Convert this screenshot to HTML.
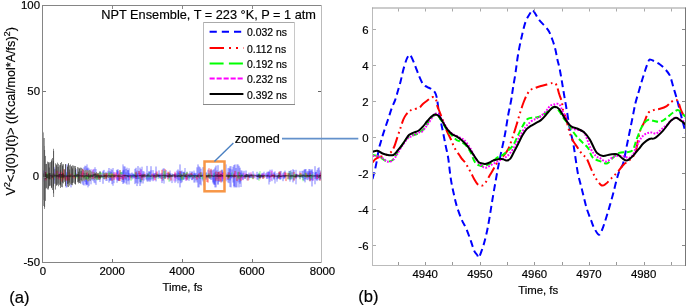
<!DOCTYPE html><html><head><meta charset="utf-8"><style>
html,body{margin:0;padding:0;background:#fff;}
body{width:687px;height:306px;overflow:hidden;position:relative;font-family:"Liberation Sans",sans-serif;}
svg{position:absolute;left:0;top:0;will-change:transform;}
text{font-family:"Liberation Sans",sans-serif;fill:#000;stroke:#000;stroke-width:0.18px;}
</style></head><body>
<svg width="687" height="306" viewBox="0 0 687 306">
<defs><clipPath id="cl"><rect x="42.5" y="5.5" width="279" height="257"/></clipPath><clipPath id="cr"><rect x="372.5" y="8.5" width="313" height="257"/></clipPath></defs>
<g clip-path="url(#cl)" fill="none" stroke-linejoin="round">
<path d="M44.0 170.9V178.0M45.0 168.4V178.1M46.0 165.9V179.4M47.0 170.4V181.8M48.0 171.3V182.3M49.0 171.2V182.1M51.0 173.7V179.8M52.0 171.8V179.4M53.0 172.5V178.7M54.0 166.8V183.7M55.0 169.4V180.4M56.0 172.5V176.0M57.0 174.0V176.8M58.0 174.3V177.7M59.0 173.6V176.0M60.0 174.5V177.5M66.0 171.8V187.4M67.0 164.4V187.4M68.0 165.9V180.5M69.0 169.8V181.5M70.0 172.2V182.7M71.0 169.8V187.4M73.0 174.4V178.6M74.0 174.9V178.4M75.0 174.6V177.3M76.0 174.8V177.1M77.0 173.0V177.0M79.0 174.5V178.4M80.0 171.7V177.7M82.0 168.4V179.0M84.0 167.3V185.5M85.0 165.7V181.9M86.0 174.4V185.5M87.0 168.4V184.6M89.0 168.5V185.8M90.0 173.7V181.2M91.0 171.9V180.2M92.0 171.7V178.9M93.0 169.9V179.4M94.0 173.3V178.9M95.0 174.1V178.1M97.0 174.1V178.2M98.0 173.0V178.6M99.0 174.1V179.7M100.0 173.2V179.2M101.0 173.5V176.6M103.0 170.7V183.8M104.0 169.9V179.1M109.0 168.0V182.6M110.0 172.8V180.9M111.0 172.0V179.9M112.0 169.8V184.2M114.0 172.3V177.3M115.0 175.1V176.4M117.0 170.2V179.5M118.0 169.2V181.1M119.0 174.1V180.6M120.0 172.7V179.0M122.0 171.9V182.0M123.0 170.4V184.0M124.0 166.3V182.4M125.0 166.5V179.4M126.0 168.9V183.5M128.0 170.2V177.2M129.0 168.3V180.4M130.0 173.9V176.4M131.0 173.1V178.1M132.0 174.9V176.9M133.0 173.3V176.7M134.0 174.5V177.3M135.0 168.9V184.1M136.0 167.8V182.9M137.0 170.6V186.1M138.0 166.1V183.6M140.0 167.6V186.0M141.0 169.2V182.2M143.0 173.5V183.5M144.0 171.4V180.5M147.0 165.9V181.4M148.0 173.4V181.7M149.0 171.5V179.6M150.0 171.7V181.9M151.0 166.2V179.4M153.0 170.1V181.2M154.0 173.7V178.4M155.0 173.1V177.6M156.0 166.5V181.4M158.0 175.0V176.1M159.0 170.4V178.6M160.0 175.1V177.8M161.0 173.6V179.0M162.0 172.8V183.1M163.0 168.7V180.6M164.0 174.0V177.7M165.0 173.6V178.2M166.0 170.0V178.2M167.0 173.1V177.0M168.0 172.8V178.6M169.0 173.1V178.1M170.0 172.9V178.4M172.0 174.3V176.3M175.0 173.6V178.2M177.0 170.6V176.8M178.0 169.4V183.3M179.0 170.7V179.8M180.0 164.4V187.4M181.0 170.9V183.2M182.0 170.5V182.3M183.0 172.0V180.0M184.0 172.1V179.2M185.0 173.3V177.4M187.0 173.6V179.8M188.0 174.3V178.3M189.0 173.1V180.8M190.0 174.0V178.1M191.0 173.8V177.1M192.0 171.8V180.2M194.0 172.8V178.4M195.0 174.0V177.4M197.0 167.3V182.5M198.0 164.4V187.4M199.0 166.4V187.4M200.0 167.2V184.4M201.0 168.7V185.4M203.0 167.2V181.4M204.0 167.0V185.5M206.0 172.8V177.8M208.0 169.7V177.4M209.0 173.3V178.3M210.0 170.5V178.6M211.0 169.7V180.0M213.0 169.8V183.4M214.0 169.3V183.8M215.0 167.5V187.4M216.0 165.6V187.4M218.0 165.2V183.9M220.0 170.8V181.8M222.0 169.7V182.2M223.0 171.5V178.7M224.0 172.0V179.1M228.0 172.3V180.1M230.0 168.8V180.4M231.0 173.3V178.3M232.0 169.4V178.3M233.0 166.7V182.6M234.0 165.0V186.1M235.0 164.4V187.3M236.0 168.0V187.4M238.0 172.5V178.0M239.0 165.8V187.4M240.0 167.7V183.8M241.0 172.6V178.1M242.0 170.6V178.3M243.0 172.7V179.5M244.0 170.8V177.5M245.0 175.0V179.0M246.0 170.5V177.0M247.0 174.5V177.2M248.0 175.0V176.3M249.0 172.6V177.6M250.0 175.2V178.0M251.0 174.8V177.4M252.0 174.9V178.0M253.0 171.3V178.4M254.0 173.8V178.0M257.0 171.8V179.5M258.0 174.5V179.8M259.0 173.4V177.7M261.0 175.1V177.3M262.0 174.9V178.0M263.0 174.3V178.6M265.0 174.4V176.7M266.0 173.1V176.7M267.0 174.7V178.7M268.0 173.8V177.4M269.0 171.7V178.6M270.0 174.9V178.0M271.0 173.7V176.0M272.0 173.4V176.4M274.0 172.9V179.2M275.0 173.8V177.3M277.0 175.0V179.4M278.0 174.9V178.8M279.0 172.6V178.1M280.0 173.1V179.3M281.0 170.9V179.3M283.0 172.8V181.2M284.0 171.8V179.1M285.0 170.6V178.1M289.0 170.9V179.4M290.0 172.8V181.6M291.0 170.2V179.4M293.0 169.2V182.4M295.0 175.0V177.1M296.0 173.7V178.6M297.0 173.9V177.4M298.0 175.1V177.3M299.0 174.8V177.4M300.0 174.3V177.1M303.0 170.8V180.0M304.0 174.1V176.5M305.0 169.4V182.4M307.0 171.4V179.7M308.0 172.8V180.2M309.0 169.0V178.9M310.0 170.7V181.4M311.0 170.4V179.9M312.0 169.1V186.5M313.0 171.9V180.6M315.0 166.2V184.3M316.0 172.0V177.6M317.0 174.4V180.2M318.0 168.1V177.5M319.0 167.3V180.2M320.0 173.1V178.7M321.0 172.5V179.3" stroke="#0000ff" stroke-width="0.6" stroke-opacity="0.85"/>
<path d="M43.0 170.7V181.7M44.0 170.0V177.7M45.0 171.1V178.2M47.0 171.0V183.5M48.0 169.0V179.3M50.0 173.8V179.8M51.0 174.9V178.1M54.0 174.3V176.5M55.0 174.6V176.8M56.0 174.8V177.4M57.0 175.2V177.4M58.0 174.6V177.3M59.0 174.1V177.8M60.0 174.7V176.8M61.0 174.4V177.6M62.0 174.6V177.9M63.0 174.5V177.5M65.0 174.7V177.4M66.0 174.4V178.0M67.0 172.8V178.4M69.0 172.3V176.7M70.0 169.7V180.6M71.0 172.5V179.8M72.0 172.3V181.5M73.0 169.7V177.2M74.0 172.2V179.0M77.0 169.1V176.0M78.0 171.6V180.0M79.0 171.3V183.0M81.0 169.0V180.3M82.0 172.5V183.6M83.0 172.5V184.9M86.0 166.2V184.0M87.0 164.4V185.0M88.0 167.5V187.4M91.0 169.2V184.3M93.0 173.3V180.9M94.0 168.9V182.6M95.0 167.2V183.3M96.0 169.0V184.9M97.0 173.6V179.7M98.0 173.7V179.4M100.0 171.6V182.0M103.0 172.2V177.8M104.0 173.0V179.0M106.0 171.8V181.0M107.0 172.6V180.9M108.0 170.7V177.3M110.0 171.0V180.3M111.0 168.8V180.8M112.0 174.2V178.1M113.0 168.0V185.8M114.0 175.2V183.2M117.0 169.7V182.8M118.0 171.3V180.3M119.0 175.2V180.7M121.0 172.1V179.3M123.0 164.4V179.9M124.0 169.7V183.3M126.0 172.3V180.3M127.0 167.7V184.6M128.0 170.1V181.2M129.0 173.0V184.5M131.0 174.8V177.7M132.0 172.4V179.5M133.0 174.0V178.5M134.0 174.0V178.4M135.0 174.2V178.2M136.0 172.7V178.8M137.0 174.2V178.9M138.0 173.1V179.1M139.0 171.2V179.0M140.0 173.5V181.9M141.0 173.7V183.5M142.0 166.7V180.1M143.0 171.1V177.3M146.0 174.7V179.5M147.0 173.3V179.7M149.0 171.3V180.9M151.0 170.3V180.6M153.0 173.9V179.6M154.0 173.4V178.2M156.0 173.2V178.1M158.0 173.8V177.0M159.0 174.3V177.1M160.0 173.8V177.6M161.0 174.8V176.3M162.0 174.8V176.6M163.0 174.7V178.0M164.0 168.2V183.6M165.0 174.1V178.7M170.0 170.5V181.4M172.0 173.3V183.1M175.0 174.0V182.8M176.0 173.4V181.5M177.0 174.1V178.8M178.0 172.4V180.5M179.0 172.7V176.3M180.0 173.3V181.2M181.0 171.9V180.1M184.0 171.5V179.7M185.0 168.0V177.2M186.0 174.6V180.8M187.0 171.8V178.6M188.0 174.4V177.7M189.0 175.1V176.9M190.0 171.2V178.8M191.0 173.5V176.0M192.0 171.4V180.0M193.0 174.0V179.2M194.0 170.6V182.6M195.0 172.8V182.5M196.0 172.9V180.5M198.0 174.3V176.9M200.0 172.2V178.9M202.0 174.3V176.1M203.0 172.5V179.8M205.0 173.8V179.9M206.0 171.9V179.8M207.0 175.4V177.9M209.0 174.3V178.2M210.0 175.2V178.8M212.0 170.5V179.5M213.0 174.9V181.9M214.0 173.4V185.0M215.0 172.2V184.8M216.0 173.8V181.6M217.0 170.3V179.2M218.0 172.4V185.0M219.0 171.7V181.9M222.0 169.8V181.2M223.0 172.4V180.9M224.0 172.7V182.8M225.0 174.7V179.5M226.0 164.4V181.3M228.0 168.2V182.6M229.0 167.8V183.2M230.0 166.2V187.1M231.0 166.2V187.4M234.0 173.4V187.4M237.0 164.4V187.4M238.0 164.4V182.4M240.0 172.8V182.3M241.0 170.3V187.0M243.0 174.2V180.2M245.0 175.2V177.6M246.0 174.0V177.6M247.0 174.5V180.4M249.0 175.0V179.6M250.0 174.8V177.6M251.0 173.8V176.8M254.0 175.1V176.0M256.0 174.8V176.3M257.0 174.5V176.9M258.0 174.6V177.5M259.0 173.9V178.3M260.0 175.2V178.3M261.0 174.5V177.2M262.0 172.9V176.8M263.0 172.9V177.2M264.0 171.7V177.2M267.0 171.8V178.9M268.0 171.7V176.5M269.0 171.5V184.5M270.0 169.7V181.9M272.0 169.5V181.2M274.0 171.9V179.6M275.0 171.4V183.5M277.0 173.1V181.7M279.0 172.7V177.4M280.0 171.4V179.7M282.0 175.4V177.3M283.0 174.6V176.4M284.0 175.4V178.2M285.0 175.0V177.3M286.0 174.8V176.5M289.0 173.3V178.2M290.0 171.0V179.5M292.0 172.1V179.1M294.0 170.0V180.4M296.0 169.8V184.3M300.0 170.9V179.2M302.0 170.8V177.9M303.0 175.2V178.0M304.0 169.7V180.9M305.0 169.3V179.2M306.0 169.0V179.4M308.0 170.8V176.3M309.0 171.4V177.7M310.0 169.0V180.3M312.0 170.4V180.5M313.0 175.0V176.5M315.0 172.6V178.9M316.0 171.7V179.5M317.0 169.9V181.1M318.0 174.3V179.0M320.0 170.3V180.4M321.0 175.0V179.0" stroke="#0000ff" stroke-width="0.5" stroke-opacity="0.9"/>
<path d="M43.0 131.9V205.9M44.5 145.9V208.9M45.5 155.9V200.9M46.5 163.9V187.9M47.5 161.6V189.4M48.5 163.4V189.5M49.5 162.4V186.2M50.5 162.1V185.7M51.5 159.4V188.2M52.5 158.0V190.0M53.5 148.8V193.3M55.5 163.3V189.6M56.5 164.4V184.9M57.5 162.6V184.9M58.5 163.9V186.3M59.5 165.2V184.8M60.5 164.9V184.2M61.5 162.0V186.9M62.5 164.3V187.3M63.5 164.2V183.4M65.5 164.4V184.5M67.5 165.5V186.5M68.5 164.1V183.6M69.5 165.3V185.6M70.5 164.5V184.4M71.5 166.9V183.5M72.5 165.3V185.2M73.5 165.6V182.7M74.5 165.9V183.7M75.5 166.0V184.7M77.5 167.1V182.2M78.5 167.5V183.4M79.5 167.9V181.2M80.5 167.6V183.6M81.5 167.8V181.4M82.5 168.9V181.3M83.5 170.2V180.5M84.5 170.7V180.7M85.5 169.8V179.7M86.5 170.2V179.8M87.5 170.1V181.3M88.5 170.5V181.2M89.5 170.0V180.3M90.5 170.4V180.6M91.5 171.6V178.9M92.5 171.6V179.4M93.5 172.1V178.9M94.5 172.2V179.8M95.5 172.9V179.2M96.5 172.0V179.4M97.5 172.9V179.5M98.5 172.9V179.7M99.5 171.5V180.0M100.5 171.5V179.3M103.5 173.2V178.5M104.5 172.9V179.3M105.5 172.8V178.5M106.5 173.2V178.8M108.5 173.4V178.0M109.5 173.0V177.7M110.5 173.3V177.9M111.5 173.8V177.9M112.5 173.7V177.4M113.5 174.0V177.6M114.5 174.3V177.2M115.5 174.5V177.2M116.5 174.5V177.1M117.5 174.6V177.2M118.5 174.7V177.2M119.5 174.9V177.0M120.5 174.9V176.8" stroke="#8a8a8a" stroke-width="1" stroke-opacity="1"/>
<path d="M43.0 174.2V175.5M46.0 172.3V180.3M49.0 173.6V179.2M53.0 175.5V179.2M54.0 173.7V177.3M57.0 170.6V178.3M59.0 174.4V179.4M60.0 173.8V177.5M61.0 171.7V178.2M62.0 173.5V181.6M63.0 172.9V178.6M64.0 169.3V179.6M66.0 175.6V181.0M67.0 176.7V179.8M68.0 175.0V180.7M69.0 172.1V180.3M70.0 173.8V177.7M72.0 173.2V176.5M74.0 175.5V178.3M76.0 177.6V178.2M77.0 174.0V175.6M79.0 176.6V178.5M82.0 172.6V177.0M83.0 169.2V177.6M87.0 172.3V175.7M90.0 173.7V177.5M93.0 176.5V178.4M97.0 173.9V175.8M98.0 174.0V175.0M99.0 175.2V179.0M100.0 175.4V176.7M101.0 175.2V176.5M105.0 174.8V176.4M106.0 174.2V179.2M107.0 173.1V176.9M112.0 173.7V180.8M114.0 173.6V179.7M116.0 172.6V177.7M119.0 173.5V180.9M120.0 170.0V181.1M122.0 174.8V178.5M123.0 177.0V179.9M124.0 174.7V177.8M125.0 174.7V176.2M126.0 177.2V178.5M130.0 176.0V178.4M136.0 171.8V178.7M139.0 170.9V174.4M140.0 172.8V177.8M142.0 174.5V180.3M144.0 174.0V177.7M152.0 173.8V175.6M154.0 175.2V177.7M155.0 175.5V180.1M156.0 173.6V177.2M157.0 171.6V175.1M162.0 169.8V179.0M165.0 169.1V179.0M168.0 171.6V179.6M169.0 172.2V177.4M171.0 175.3V180.5M175.0 172.6V177.4M180.0 171.2V176.1M182.0 175.1V178.8M184.0 173.0V175.5M185.0 175.8V176.8M186.0 175.2V179.0M187.0 172.6V179.6M189.0 174.1V175.6M191.0 172.9V175.2M192.0 173.7V174.8M193.0 176.4V178.4M196.0 177.0V177.9M197.0 176.4V179.7M199.0 173.3V178.3M201.0 172.2V176.7M204.0 173.6V177.7M205.0 173.2V178.9M206.0 175.5V178.1M207.0 175.1V182.0M208.0 174.8V182.6M209.0 168.2V177.5M211.0 168.8V177.8M216.0 171.5V180.7M218.0 172.0V181.0M219.0 171.7V178.6M220.0 173.7V180.9M221.0 170.5V182.5M223.0 173.0V177.6M224.0 173.2V176.3M228.0 175.8V179.3M229.0 172.3V178.2M234.0 173.8V178.2M235.0 170.9V176.4M236.0 175.5V177.2M237.0 175.5V181.0M239.0 171.8V179.5M241.0 175.8V180.8M245.0 174.3V178.7M248.0 175.2V180.7M252.0 174.5V175.6M253.0 175.0V179.2M258.0 176.1V176.8M260.0 174.9V179.2M263.0 174.5V178.9M264.0 175.1V178.2M270.0 175.6V176.5M271.0 176.2V177.2M272.0 175.2V176.9M273.0 174.3V176.1M274.0 174.4V178.0M279.0 171.7V178.9M280.0 171.5V177.1M285.0 172.3V176.7M286.0 172.7V181.1M288.0 173.3V179.1M289.0 173.2V176.1M294.0 171.9V180.6M296.0 174.5V178.3M300.0 172.7V177.2M301.0 173.3V175.9M306.0 172.9V176.6M307.0 174.3V177.8M310.0 172.7V181.1M317.0 174.3V178.9M320.0 174.3V180.7M321.0 171.5V177.5" stroke="#ff0000" stroke-width="0.8" stroke-opacity="0.8"/>
<path d="M43.0 175.3V177.5M44.0 174.6V175.7M45.0 175.8V177.9M47.0 172.9V177.6M49.0 174.2V179.6M54.0 174.6V178.0M55.0 173.1V176.3M56.0 176.7V178.1M57.0 173.1V175.0M58.0 176.3V178.6M62.0 175.6V178.6M65.0 176.0V176.3M66.0 174.3V176.1M69.0 173.3V174.3M70.0 175.8V178.2M72.0 172.6V177.7M75.0 172.6V176.6M77.0 174.2V178.4M80.0 172.2V175.9M81.0 174.5V175.5M84.0 174.6V177.5M86.0 175.1V178.7M87.0 175.0V179.3M88.0 176.0V178.7M89.0 174.2V175.9M92.0 174.4V177.3M97.0 174.0V180.4M100.0 172.9V176.9M101.0 172.4V177.4M102.0 172.8V178.2M109.0 171.8V175.2M112.0 172.6V176.5M115.0 174.3V175.4M119.0 174.1V175.1M120.0 170.2V176.2M121.0 172.0V177.0M122.0 172.5V175.3M131.0 176.3V180.9M132.0 175.7V178.2M135.0 172.5V176.3M139.0 176.2V179.2M141.0 176.3V181.6M145.0 174.3V176.7M147.0 176.6V178.4M148.0 173.6V176.6M149.0 172.7V177.7M152.0 174.5V178.8M153.0 175.3V178.3M156.0 172.8V178.2M158.0 173.5V178.8M161.0 174.9V178.5M163.0 174.0V180.4M164.0 170.8V177.2M165.0 171.2V178.5M169.0 173.2V181.7M170.0 173.9V176.9M177.0 173.6V175.7M179.0 174.3V177.9M181.0 173.6V179.5M182.0 176.8V180.6M183.0 175.9V179.7M184.0 172.8V177.1M186.0 172.9V178.2M187.0 171.7V175.9M188.0 176.4V179.6M190.0 174.4V177.0M192.0 175.0V177.4M195.0 174.9V178.2M198.0 175.8V178.1M201.0 172.6V177.2M202.0 175.6V179.4M203.0 177.3V178.7M206.0 176.9V178.3M207.0 174.9V176.0M208.0 173.6V178.1M210.0 173.7V178.6M214.0 173.4V177.7M225.0 172.2V176.7M227.0 174.5V177.1M229.0 175.2V178.4M232.0 172.3V176.1M238.0 171.9V178.5M239.0 175.2V178.6M241.0 174.0V177.7M242.0 175.1V176.7M246.0 175.4V177.5M251.0 173.4V178.4M253.0 174.0V179.0M259.0 172.7V180.8M260.0 171.1V177.1M264.0 175.5V177.5M267.0 174.7V176.3M271.0 171.9V175.2M279.0 173.9V177.1M288.0 172.6V179.5M290.0 170.9V179.3M291.0 174.3V179.5M292.0 172.4V177.9M294.0 173.9V178.6M295.0 173.9V176.6M299.0 174.6V177.1M300.0 174.3V179.3M301.0 174.1V176.1M303.0 174.7V181.3M305.0 172.7V176.9M306.0 173.4V177.8M308.0 175.2V177.5M310.0 174.8V176.6M311.0 175.8V178.2M312.0 174.2V179.2M313.0 174.3V178.1" stroke="#00ff00" stroke-width="0.8" stroke-opacity="0.6"/>
<path d="M45.0 170.9V180.6M51.0 175.2V176.9M55.0 172.2V175.6M57.0 175.6V178.3M59.0 171.8V178.8M61.0 173.0V177.0M65.0 174.8V176.5M67.0 176.4V177.1M69.0 175.6V178.8M72.0 172.9V178.4M74.0 174.9V175.3M80.0 173.1V176.8M81.0 173.9V177.2M83.0 170.8V175.2M84.0 174.0V176.0M87.0 173.5V176.7M93.0 169.2V178.6M96.0 173.7V175.4M101.0 173.7V177.0M103.0 174.4V176.0M114.0 171.9V174.8M115.0 175.0V179.4M116.0 172.3V176.9M117.0 174.0V179.8M119.0 170.9V176.0M120.0 173.9V175.5M121.0 174.4V178.5M122.0 174.6V176.8M123.0 174.7V176.0M124.0 174.7V178.3M130.0 174.8V179.9M133.0 176.4V178.1M139.0 174.0V176.3M140.0 173.2V178.3M141.0 169.7V179.5M145.0 172.5V177.8M148.0 173.8V175.4M152.0 174.6V177.2M153.0 173.4V177.9M154.0 174.4V180.6M156.0 171.4V174.8M157.0 173.6V177.8M160.0 172.9V176.7M162.0 174.2V180.9M164.0 174.5V175.8M167.0 174.2V176.2M168.0 173.6V178.3M170.0 174.1V176.5M174.0 174.2V181.3M175.0 171.6V176.1M176.0 173.8V179.3M178.0 174.7V175.3M179.0 176.3V178.3M186.0 175.2V180.4M187.0 173.9V180.5M197.0 176.1V178.8M199.0 174.7V176.1M203.0 174.7V176.9M206.0 175.9V178.3M212.0 173.3V176.7M215.0 175.0V177.6M218.0 175.0V176.9M219.0 173.9V176.9M221.0 172.7V177.7M222.0 173.7V179.9M223.0 173.3V177.5M224.0 171.3V178.3M226.0 173.0V179.8M236.0 171.8V176.2M239.0 174.8V176.2M240.0 173.5V176.1M242.0 176.9V180.1M243.0 176.1V177.8M244.0 172.8V174.8M246.0 172.9V174.3M250.0 173.6V176.9M251.0 172.0V176.6M252.0 174.0V177.8M255.0 173.6V178.5M259.0 176.2V177.7M262.0 173.8V176.4M264.0 173.2V176.1M266.0 175.7V177.6M268.0 172.7V177.7M271.0 170.5V180.5M272.0 171.0V176.3M274.0 175.7V176.7M277.0 174.8V176.1M281.0 174.3V177.2M282.0 175.2V177.9M284.0 174.0V174.6M285.0 173.2V174.3M290.0 175.7V178.6M292.0 173.3V176.0M298.0 174.0V175.3M300.0 177.1V177.7M304.0 174.7V176.0M308.0 177.3V178.0M313.0 175.1V180.6M317.0 173.5V179.0M320.0 176.4V177.6M321.0 175.6V177.1" stroke="#ff00ff" stroke-width="0.8" stroke-opacity="0.65"/>
<path d="M43.0 173.0V178.4M44.0 174.2V178.0M45.0 172.0V178.7M46.0 173.8V178.4M47.0 174.3V178.2M48.0 174.3V178.3M49.0 173.1V178.7M50.0 173.1V179.4M51.0 174.8V176.5M52.0 175.2V177.9M53.0 173.5V177.2M54.0 175.3V176.5M55.0 174.7V175.9M56.0 174.8V177.2M57.0 175.0V176.6M58.0 174.8V176.9M59.0 174.2V177.6M60.0 173.7V176.8M61.0 174.1V177.8M62.0 174.0V177.2M63.0 173.5V177.6M64.0 174.8V177.6M65.0 175.3V176.6M66.0 175.6V176.7M67.0 175.5V176.8M68.0 175.2V176.9M69.0 175.2V176.9M70.0 175.5V177.0M71.0 174.7V176.4M72.0 175.9V176.8M73.0 175.6V176.7M74.0 174.8V176.5M75.0 175.0V177.0M76.0 174.9V176.5M77.0 174.5V177.1M78.0 174.2V176.7M79.0 174.7V176.7M80.0 174.9V176.4M81.0 175.5V176.5M82.0 175.2V176.6M83.0 175.4V176.4M84.0 175.5V176.7M85.0 175.4V177.0M86.0 175.1V176.2M87.0 175.3V176.8M88.0 174.5V177.0M89.0 175.5V176.9M90.0 175.1V177.6M91.0 174.8V176.8M92.0 174.9V177.0M93.0 174.5V176.9M94.0 173.9V176.1M95.0 173.6V177.9M96.0 173.7V177.1M97.0 175.2V177.6M98.0 174.6V177.4M99.0 175.0V177.4M100.0 175.4V178.1M101.0 175.1V177.3M102.0 175.4V177.3M103.0 175.6V176.8M104.0 174.7V177.2M105.0 175.0V177.0M106.0 175.3V176.3M107.0 175.3V177.5M108.0 175.2V176.5M109.0 175.3V176.3M110.0 175.2V177.3M111.0 175.2V177.2M112.0 175.4V176.3M113.0 175.4V176.2M114.0 175.2V177.2M115.0 175.4V176.4M116.0 175.5V176.0M117.0 175.5V176.3M118.0 175.1V177.1M119.0 175.5V176.5M120.0 175.5V176.4M121.0 175.9V176.7M122.0 175.9V176.6M123.0 175.4V176.3M124.0 175.3V176.1M125.0 174.9V176.6M126.0 175.2V176.2M127.0 175.0V176.7M128.0 175.1V177.3M129.0 175.6V176.7M130.0 175.2V176.4M131.0 175.5V176.4M132.0 175.5V176.3M133.0 175.5V176.5M134.0 175.4V176.1M135.0 175.1V176.6M136.0 175.4V176.9M137.0 175.4V176.6M138.0 175.5V176.3M139.0 175.4V176.3M140.0 174.9V176.0M141.0 175.2V176.5M142.0 174.5V177.5M143.0 174.9V176.7M144.0 174.6V176.6M145.0 174.5V176.7M146.0 175.5V176.6M147.0 175.0V176.6M148.0 174.4V176.7M149.0 175.4V176.4M150.0 175.3V176.7M151.0 175.5V176.9M152.0 175.3V176.3M153.0 175.6V176.4M154.0 174.8V176.8M155.0 175.3V176.2M156.0 175.5V176.7M157.0 174.4V176.7M158.0 174.8V176.8M159.0 174.9V176.6M160.0 175.1V176.3M161.0 175.6V176.3M162.0 175.4V176.2M163.0 175.2V176.1M164.0 175.2V176.0M165.0 175.1V176.7M166.0 175.1V176.1M167.0 175.2V176.9M168.0 175.1V177.0M169.0 174.5V177.2M170.0 174.3V176.8M171.0 175.0V176.8M172.0 175.0V177.1M173.0 174.3V176.7M174.0 174.5V176.4M175.0 174.7V177.3M176.0 175.6V176.4M177.0 175.3V177.2M178.0 175.3V176.9M179.0 175.0V176.6M180.0 175.6V177.0M181.0 174.6V177.2M182.0 174.8V176.3M183.0 174.7V176.5M184.0 175.5V176.3M185.0 175.0V176.8M186.0 174.3V177.1M187.0 175.7V176.6M188.0 175.3V176.3M189.0 175.2V176.4M190.0 175.5V176.8M191.0 175.2V176.6M192.0 175.3V176.6M193.0 174.9V176.2M194.0 175.1V176.8M195.0 175.4V176.4M196.0 174.9V176.5M197.0 175.0V177.0M198.0 174.7V176.9M199.0 175.5V176.3M200.0 175.4V176.3M201.0 175.0V177.0M202.0 175.2V176.4M203.0 175.5V176.4M204.0 175.5V176.2M205.0 175.5V176.3M206.0 175.2V176.7M207.0 175.5V177.0M208.0 175.0V176.8M209.0 175.0V176.5M210.0 175.4V176.5M211.0 175.3V176.3M212.0 174.9V176.6M213.0 175.6V176.7M214.0 175.6V176.7M215.0 175.0V176.6M216.0 175.3V176.5M217.0 174.4V176.9M218.0 174.8V177.0M219.0 174.9V176.8M220.0 174.8V176.9M221.0 173.9V177.2M222.0 174.7V176.4M223.0 175.1V176.7M224.0 175.1V176.5M225.0 175.6V176.5M226.0 175.4V176.8M227.0 174.6V176.6M228.0 174.8V177.3M229.0 174.9V176.9M230.0 174.9V176.8M231.0 175.2V176.6M232.0 174.9V176.7M233.0 175.4V177.0M234.0 175.1V176.4M235.0 175.3V177.0M236.0 175.4V176.0M237.0 175.5V176.3M238.0 175.5V176.5M239.0 175.2V176.5M240.0 175.3V176.4M241.0 175.4V176.6M242.0 174.8V176.4M243.0 175.5V176.4M244.0 175.6V176.7M245.0 175.1V176.9M246.0 174.6V177.0M247.0 174.0V176.9M248.0 174.6V177.1M249.0 174.4V177.3M250.0 175.1V176.6M251.0 174.5V176.0M252.0 174.8V176.5M253.0 175.5V176.2M254.0 175.4V176.5M255.0 175.3V176.2M256.0 174.9V176.5M257.0 175.7V176.9M258.0 174.8V177.0M259.0 174.6V177.1M260.0 174.8V177.9M261.0 174.8V176.8M262.0 174.9V176.6M263.0 175.5V177.0M264.0 175.1V176.3M265.0 175.5V176.1M266.0 175.7V176.3M267.0 175.3V176.5M268.0 175.1V176.6M269.0 175.8V176.3M270.0 175.7V176.6M271.0 175.7V176.4M272.0 174.9V176.5M273.0 175.3V176.3M274.0 175.2V176.7M275.0 175.4V176.7M276.0 175.5V176.5M277.0 175.8V176.9M278.0 175.1V177.6M279.0 175.0V176.4M280.0 175.7V177.1M281.0 175.4V177.0M282.0 175.5V176.8M283.0 175.3V176.3M284.0 175.3V176.8M285.0 175.2V176.5M286.0 175.2V176.4M287.0 175.1V176.4M288.0 175.2V176.4M289.0 175.7V176.5M290.0 175.5V176.5M291.0 175.0V177.2M292.0 175.2V176.5M293.0 175.1V176.9M294.0 175.7V176.7M295.0 175.6V177.4M296.0 174.5V177.1M297.0 174.7V176.8M298.0 175.1V176.4M299.0 175.1V176.6M300.0 175.7V176.8M301.0 175.1V177.1M302.0 174.7V177.1M303.0 174.6V176.4M304.0 175.3V176.4M305.0 175.2V176.7M306.0 175.5V176.6M307.0 175.0V176.6M308.0 174.9V176.7M309.0 175.2V176.9M310.0 174.9V176.6M311.0 175.0V176.1M312.0 175.3V176.6M313.0 175.9V176.2M314.0 175.3V176.6M315.0 175.1V176.6M316.0 175.7V176.2M317.0 175.4V176.6M318.0 175.7V176.5M319.0 174.9V177.1M320.0 175.0V176.8M321.0 175.3V176.0" stroke="#000000" stroke-width="0.8" stroke-opacity="0.85"/>
<path d="M46.0 164.0V188.6M49.3 167.5V185.7M51.5 161.1V187.5M53.4 161.2V186.5M55.0 168.7V183.7M56.6 165.3V185.9M58.1 167.0V183.6M60.4 169.8V185.5M62.5 165.8V182.7M64.4 169.3V181.8M67.5 166.9V183.9M69.6 169.5V182.6M72.5 168.4V183.1M75.5 169.9V181.7M78.5 171.7V181.7M81.1 171.0V180.1M84.0 172.9V178.4M86.1 173.1V179.6M88.6 173.4V178.7" stroke="#222222" stroke-width="0.7" stroke-opacity="0.85"/>
<path d="M44.1 138V206" stroke="#808080" stroke-width="1.3" stroke-opacity="1"/>
<path d="M42.9 133V200 M44.6 150V207 M53.6 151V197 M48.5 162V188 M60.5 163V188 M65.5 164V186 M68.5 163V187 M71.5 166V185 M75.5 168V184 M79.5 169V183" stroke="#333333" stroke-width="0.7" stroke-opacity="0.85"/>
</g>
<g stroke-width="1" fill="none" shape-rendering="crispEdges">
<line x1="42.5" y1="5" x2="42.5" y2="263" stroke="#858585"/>
<line x1="42" y1="5.5" x2="322" y2="5.5" stroke="#858585"/>
<line x1="42" y1="262.5" x2="322" y2="262.5" stroke="#858585"/>
<line x1="321.5" y1="5" x2="321.5" y2="263" stroke="#bbbbbb"/>
<line x1="112.5" y1="262" x2="112.5" y2="259" stroke="#777"/>
<line x1="112.5" y1="6" x2="112.5" y2="9" stroke="#888"/>
<line x1="182.5" y1="262" x2="182.5" y2="259" stroke="#777"/>
<line x1="182.5" y1="6" x2="182.5" y2="9" stroke="#888"/>
<line x1="252.5" y1="262" x2="252.5" y2="259" stroke="#777"/>
<line x1="252.5" y1="6" x2="252.5" y2="9" stroke="#888"/>
<line x1="43" y1="91.5" x2="45.5" y2="91.5" stroke="#777"/>
<line x1="321" y1="91.5" x2="318" y2="91.5" stroke="#666"/>
<line x1="43" y1="177.5" x2="45.5" y2="177.5" stroke="#777"/>
<line x1="321" y1="177.5" x2="318" y2="177.5" stroke="#666"/>
</g>
<g font-size="11.4" text-anchor="end">
<text x="40.0" y="9.1">100</text>
<text x="40.0" y="94.8">50</text>
<text x="39.2" y="180.4">0</text>
<text x="40.0" y="266.1">-50</text>
</g>
<g font-size="11.4" text-anchor="middle">
<text x="42.9" y="275">0</text>
<text x="112.2" y="275">2000</text>
<text x="182.0" y="275">4000</text>
<text x="251.8" y="275">6000</text>
<text x="322.5" y="275">8000</text>
<text x="182.5" y="290.5">Time, fs</text>
</g>
<text x="9.2" y="302.5" font-size="16.6">(a)</text>
<text transform="translate(15.2,195.6) rotate(-90)" font-size="12.6">V<tspan font-size="9.4" dy="-5.2">2</tspan><tspan dy="5.2">&lt;J(0)J(t)&gt; ((Kcal/mol*A/fs)</tspan><tspan font-size="9.4" dy="-5.2">2</tspan><tspan dy="5.2">)</tspan></text>
<text x="101.3" y="19" font-size="12.75">NPT Ensemble, T = 223 °K, P = 1 atm</text>
<rect x="203" y="22" width="92" height="83" fill="#fff"/>
<g stroke-width="1" shape-rendering="crispEdges">
<line x1="203" y1="22.5" x2="295" y2="22.5" stroke="#aaa"/>
<line x1="203.5" y1="22" x2="203.5" y2="105" stroke="#bbb"/>
<line x1="294.5" y1="22" x2="294.5" y2="105" stroke="#c8c8c8"/>
<line x1="203" y1="104.5" x2="295" y2="104.5" stroke="#888"/>
</g>
<line x1="209.6" y1="31.8" x2="243.4" y2="31.8" stroke="#0000ff" stroke-width="2" stroke-dasharray="7.2 5"/>
<text x="247" y="36.4" font-size="10.4">0.032 ns</text>
<line x1="209.6" y1="47.9" x2="243.4" y2="47.9" stroke="#ff0000" stroke-width="2" stroke-dasharray="14.4 5 2 5 2 5 2 30"/>
<text x="247" y="52.5" font-size="10.4">0.112 ns</text>
<line x1="209.6" y1="63.6" x2="243.4" y2="63.6" stroke="#00ff00" stroke-width="2" stroke-dasharray="14 5.3"/>
<text x="247" y="68.2" font-size="10.4">0.192 ns</text>
<line x1="209.6" y1="78.6" x2="243.4" y2="78.6" stroke="#ff00ff" stroke-width="2" stroke-dasharray="5.1 1.9"/>
<text x="247" y="83.2" font-size="10.4">0.232 ns</text>
<line x1="209.6" y1="94.1" x2="243.4" y2="94.1" stroke="#000000" stroke-width="2"/>
<text x="247" y="98.7" font-size="10.4">0.392 ns</text>
<rect x="204.5" y="161.5" width="20" height="29.8" fill="none" stroke="#f79646" stroke-width="2.5"/>
<line x1="214.4" y1="161.5" x2="233.4" y2="143.1" stroke="#4a80c2" stroke-width="1.4"/>
<line x1="282" y1="138.7" x2="358.3" y2="138.7" stroke="#6391cb" stroke-width="1.8"/>
<text x="234.7" y="142.7" font-size="12.7">zoomed</text>
<g clip-path="url(#cr)" fill="none" stroke-width="2" stroke-linejoin="round">
<path d="M372.5,179.0 C372.9,177.3 374.4,172.3 375.2,168.8 C376.0,165.3 376.7,161.5 377.3,158.2 C377.9,154.9 378.3,151.5 378.9,148.8 C379.5,146.1 380.1,144.3 380.8,142.0 C381.5,139.7 382.0,137.7 382.8,135.1 C383.6,132.5 384.7,129.2 385.7,126.3 C386.7,123.4 387.7,120.5 388.7,117.5 C389.7,114.5 390.5,111.5 391.6,108.6 C392.7,105.6 394.1,102.8 395.2,99.8 C396.3,96.8 397.1,93.6 398.0,90.5 C398.9,87.4 399.9,84.2 400.7,81.0 C401.5,77.8 402.1,74.5 403.0,71.0 C403.9,67.5 405.3,62.7 406.3,60.0 C407.3,57.3 408.4,55.5 409.2,55.0 C410.0,54.5 410.3,54.9 411.3,56.7 C412.3,58.5 413.9,62.6 415.2,65.9 C416.5,69.2 417.9,73.2 419.2,76.3 C420.5,79.3 421.8,82.5 423.1,84.2 C424.4,86.0 425.7,86.0 427.0,86.8 C428.3,87.6 429.7,88.0 431.0,88.9 C432.3,89.9 434.0,90.9 435.0,92.5 C436.0,94.1 436.4,95.7 437.0,98.5 C437.6,101.3 437.9,105.7 438.5,109.6 C439.1,113.5 440.1,117.8 440.9,121.9 C441.7,126.0 442.6,130.0 443.4,134.1 C444.2,138.2 445.0,142.3 445.8,146.4 C446.6,150.5 447.5,153.1 448.3,158.6 C449.1,164.1 449.9,173.3 450.9,179.3 C451.8,185.3 453.0,190.2 454.0,194.8 C455.0,199.5 455.8,203.1 457.1,207.2 C458.4,211.3 460.1,216.0 461.7,219.6 C463.2,223.2 464.8,225.3 466.4,228.9 C467.9,232.5 469.7,237.7 471.0,241.3 C472.3,244.9 473.1,248.3 474.1,250.6 C475.1,252.9 476.4,253.8 477.2,255.0 C478.0,256.1 478.0,258.3 478.8,257.5 C479.6,256.7 480.9,252.9 481.9,250.0 C482.9,247.1 484.0,243.8 485.0,239.8 C486.0,235.8 487.1,231.2 488.1,225.8 C489.1,220.4 490.2,213.4 491.2,207.2 C492.2,201.0 493.2,194.7 494.3,188.6 C495.4,182.5 496.5,176.0 497.5,170.6 C498.5,165.2 499.2,161.7 500.4,155.9 C501.6,150.1 503.4,142.5 504.7,135.8 C506.0,129.2 506.9,122.0 508.0,116.0 C509.1,110.0 510.4,104.7 511.2,100.0 C512.0,95.3 512.3,92.5 513.0,88.0 C513.7,83.5 514.7,78.5 515.5,73.0 C516.3,67.5 517.0,60.9 518.0,55.0 C519.0,49.1 520.2,43.0 521.5,37.5 C522.8,32.0 524.1,25.9 525.5,22.0 C526.9,18.1 528.5,15.9 529.7,14.0 C530.9,12.1 531.3,9.4 532.8,10.3 C534.3,11.2 536.3,16.1 538.8,19.4 C541.3,22.7 545.7,26.5 548.0,29.9 C550.3,33.3 551.2,36.6 552.5,40.0 C553.8,43.4 554.7,46.7 555.5,50.0 C556.3,53.3 556.8,57.0 557.5,60.0 C558.2,63.0 558.8,64.5 559.5,68.0 C560.2,71.5 561.0,76.1 561.8,80.9 C562.6,85.7 563.5,91.4 564.4,96.6 C565.3,101.8 566.2,107.1 567.1,112.3 C568.0,117.5 568.7,122.9 569.7,128.0 C570.7,133.1 572.1,137.7 573.1,142.7 C574.1,147.7 574.7,152.9 575.5,158.0 C576.3,163.1 577.0,168.9 577.9,173.5 C578.8,178.1 579.9,181.4 580.9,185.3 C581.9,189.2 582.8,193.2 583.8,197.1 C584.8,201.0 585.6,204.9 586.8,208.8 C588.0,212.7 590.0,217.4 591.2,220.6 C592.4,223.8 592.8,225.5 594.1,227.9 C595.4,230.3 597.6,234.5 598.9,234.8 C600.2,235.2 601.0,232.2 602.0,230.0 C603.0,227.8 604.0,224.5 605.0,221.5 C606.0,218.5 607.0,215.1 608.0,211.8 C609.0,208.5 610.0,204.9 611.0,201.5 C612.0,198.1 612.9,194.8 613.8,191.2 C614.7,187.6 615.7,183.2 616.6,179.8 C617.5,176.4 618.3,173.6 619.4,170.8 C620.5,168.0 622.1,167.0 623.2,163.2 C624.4,159.4 625.3,153.1 626.3,148.2 C627.3,143.2 628.3,138.4 629.3,133.5 C630.3,128.6 631.3,123.7 632.3,118.8 C633.3,113.9 634.2,108.6 635.2,104.1 C636.2,99.6 637.5,95.9 638.6,92.0 C639.7,88.1 640.9,84.2 642.0,80.5 C643.1,76.8 644.3,73.0 645.3,70.0 C646.3,67.0 647.3,64.2 648.0,62.5 C648.7,60.8 648.6,59.9 649.6,59.6 C650.6,59.4 652.3,60.2 654.0,61.0 C655.7,61.8 658.2,63.2 660.0,64.5 C661.8,65.8 663.4,67.2 665.0,69.0 C666.6,70.8 668.4,72.5 669.8,75.4 C671.2,78.3 672.0,82.5 673.2,86.6 C674.4,90.6 676.0,95.8 677.1,99.7 C678.2,103.6 678.8,106.6 679.7,110.1 C680.6,113.6 681.6,117.5 682.4,120.6 C683.2,123.6 683.9,126.2 684.5,128.4 C685.1,130.6 685.8,133.1 686.0,134.0" stroke="#0000ff" stroke-dasharray="7 4"/>
<path d="M372.5,162.4 C372.9,161.9 374.1,160.2 375.2,159.3 C376.3,158.4 378.0,157.6 379.4,157.1 C380.8,156.6 382.3,156.6 383.7,156.1 C385.1,155.6 386.8,154.7 388.0,154.0 C389.2,153.3 390.1,153.2 391.1,152.0 C392.2,150.8 393.2,149.0 394.3,146.5 C395.4,144.0 396.4,140.1 397.5,136.9 C398.6,133.7 399.7,130.2 400.7,127.3 C401.7,124.4 402.5,121.5 403.4,119.4 C404.3,117.3 405.2,115.8 406.2,114.5 C407.2,113.2 408.3,112.4 409.3,111.6 C410.3,110.8 410.6,110.2 412.2,109.6 C413.8,108.9 417.4,108.7 419.2,107.7 C421.0,106.7 421.6,105.0 423.1,103.7 C424.6,102.4 426.8,100.9 428.3,99.8 C429.8,98.7 431.2,97.5 432.2,97.2 C433.2,96.9 433.9,97.4 434.5,97.8 C435.1,98.2 435.6,98.4 436.1,99.8 C436.6,101.2 436.7,103.9 437.3,105.9 C437.9,107.9 438.7,109.3 439.7,112.0 C440.7,114.7 442.2,118.6 443.4,121.9 C444.6,125.2 445.9,128.8 447.1,131.7 C448.3,134.5 449.5,136.3 450.7,139.0 C451.9,141.7 453.0,144.9 454.4,147.6 C455.8,150.3 458.0,153.1 459.3,155.0 C460.6,156.9 461.0,157.8 462.0,159.0 C463.0,160.2 464.1,161.1 465.1,162.5 C466.1,163.9 467.1,165.9 468.1,167.6 C469.1,169.3 470.0,171.0 471.0,172.8 C472.0,174.7 472.9,176.8 474.0,178.7 C475.1,180.6 476.5,183.1 477.6,184.2 C478.7,185.3 479.6,185.3 480.5,185.5 C481.4,185.7 481.9,185.8 482.8,185.3 C483.7,184.8 484.7,183.8 485.7,182.4 C486.7,181.1 487.8,178.7 488.7,177.2 C489.6,175.7 490.0,175.0 490.9,173.5 C491.8,172.0 492.8,170.1 493.8,168.4 C494.8,166.7 495.7,164.8 496.8,163.2 C497.9,161.6 499.2,160.2 500.4,158.8 C501.6,157.5 502.8,156.7 504.1,155.1 C505.4,153.5 506.9,151.8 508.3,149.0 C509.7,146.2 510.8,142.5 512.2,138.5 C513.6,134.5 515.1,129.4 516.5,125.0 C517.9,120.6 519.1,115.8 520.3,112.0 C521.5,108.2 522.6,104.8 523.7,102.0 C524.8,99.2 525.7,97.0 526.8,95.0 C527.9,93.0 529.0,91.2 530.5,90.0 C532.0,88.8 534.0,88.5 535.8,87.8 C537.5,87.1 539.1,86.5 541.0,86.0 C542.9,85.5 545.1,85.0 547.0,84.5 C548.9,84.0 551.1,83.2 552.5,83.0 C553.9,82.8 554.7,82.7 555.5,83.5 C556.3,84.3 556.8,86.0 557.4,87.8 C558.0,89.5 558.5,91.7 559.2,94.0 C559.9,96.3 561.1,98.9 561.8,101.8 C562.5,104.7 562.6,108.7 563.3,111.4 C564.0,114.1 564.8,114.7 565.8,118.0 C566.8,121.3 568.2,127.5 569.2,131.0 C570.2,134.5 571.0,136.9 572.0,139.0 C573.0,141.1 574.0,142.3 575.0,143.8 C576.0,145.3 576.7,146.5 577.9,148.2 C579.1,149.9 580.5,152.2 582.0,154.0 C583.5,155.8 585.3,156.3 586.8,158.8 C588.3,161.3 589.7,165.9 591.2,169.1 C592.7,172.3 593.9,175.2 595.6,177.9 C597.3,180.6 599.8,184.3 601.5,185.3 C603.2,186.3 604.2,185.0 605.9,183.8 C607.6,182.6 609.8,179.9 611.8,177.9 C613.8,175.9 615.6,174.3 617.6,172.1 C619.6,169.9 621.5,166.7 623.5,164.7 C625.5,162.7 627.4,162.3 629.4,160.3 C631.4,158.3 633.9,156.3 635.3,152.9 C636.7,149.5 637.1,143.9 638.0,140.0 C638.9,136.1 639.6,132.3 640.5,129.6 C641.4,126.9 642.6,125.5 643.5,123.7 C644.4,121.9 644.8,120.6 645.6,118.8 C646.4,117.0 647.1,114.2 648.4,112.7 C649.7,111.2 651.6,110.8 653.6,110.1 C655.6,109.4 657.9,109.4 660.1,108.8 C662.3,108.2 665.0,107.3 666.7,106.2 C668.5,105.1 669.1,103.4 670.6,102.3 C672.1,101.2 674.5,99.7 675.8,99.7 C677.1,99.7 677.5,100.6 678.4,102.3 C679.3,104.0 680.1,107.9 681.0,110.1 C681.9,112.3 682.9,113.9 683.7,115.4 C684.5,116.9 685.6,118.4 686.0,119.0" stroke="#ff0000" stroke-dasharray="12 3.5 1.8 3.5 1.8 3.5"/>
<path d="M372.5,155.0 C373.5,155.2 376.3,155.2 378.4,156.1 C380.4,157.0 383.0,159.4 384.8,160.3 C386.6,161.2 387.6,161.6 389.0,161.4 C390.4,161.2 391.7,161.1 393.3,159.3 C394.9,157.5 396.8,153.5 398.6,150.7 C400.4,147.8 402.1,144.6 403.9,142.2 C405.7,139.8 407.4,137.7 409.2,136.5 C411.0,135.3 412.8,135.5 414.6,134.8 C416.4,134.1 418.1,133.4 419.9,132.2 C421.7,130.9 423.7,129.2 425.2,127.3 C426.7,125.4 427.8,122.8 429.0,121.0 C430.2,119.2 431.2,117.5 432.4,116.5 C433.6,115.5 434.8,114.8 436.0,115.0 C437.2,115.2 438.5,116.5 439.7,118.0 C440.9,119.5 442.2,122.0 443.4,124.0 C444.6,126.0 445.7,128.1 447.1,130.0 C448.5,131.9 450.4,133.8 452.0,135.5 C453.6,137.2 455.5,139.2 456.9,140.2 C458.3,141.2 459.2,140.9 460.5,141.5 C461.8,142.1 463.2,142.9 464.5,144.0 C465.8,145.1 466.9,146.5 468.0,148.0 C469.1,149.5 469.9,150.7 471.0,153.0 C472.1,155.3 473.3,159.7 474.7,161.8 C476.1,163.9 477.5,164.7 479.1,165.4 C480.7,166.1 482.8,166.3 484.3,166.2 C485.8,166.1 486.7,165.3 487.9,164.7 C489.1,164.1 490.0,163.7 491.6,162.5 C493.2,161.3 495.9,158.5 497.5,157.4 C499.1,156.3 499.7,156.8 501.2,155.9 C502.7,155.0 504.4,153.8 506.3,152.1 C508.2,150.4 511.0,148.3 512.9,145.6 C514.8,142.9 516.2,139.1 517.8,135.8 C519.4,132.5 521.0,128.7 522.7,125.9 C524.4,123.1 525.6,120.2 527.8,118.8 C530.0,117.4 533.5,117.9 535.7,117.5 C537.9,117.1 539.0,117.1 540.9,116.2 C542.8,115.3 544.8,113.5 547.0,112.0 C549.2,110.5 552.0,107.3 554.0,107.1 C556.0,106.9 557.7,109.3 559.2,111.0 C560.7,112.7 561.6,115.3 563.1,117.5 C564.6,119.7 566.9,121.9 568.4,124.1 C569.9,126.3 570.9,128.5 572.3,130.6 C573.7,132.7 575.3,134.9 577.0,136.9 C578.7,138.9 580.5,140.5 582.4,142.4 C584.3,144.3 586.5,145.7 588.2,148.2 C589.9,150.7 590.4,155.1 592.6,157.4 C594.8,159.7 599.0,160.8 601.5,161.8 C604.0,162.8 605.4,163.9 607.4,163.2 C609.4,162.5 611.2,159.1 613.2,157.4 C615.2,155.7 616.8,153.8 619.1,152.9 C621.4,152.0 624.5,152.6 626.8,152.2 C629.1,151.8 631.1,152.3 632.7,150.2 C634.3,148.1 635.3,142.8 636.6,139.4 C637.9,136.0 639.2,132.4 640.5,129.6 C641.8,126.8 643.2,124.3 644.5,122.7 C645.8,121.1 646.9,120.1 648.4,119.8 C649.9,119.5 651.5,120.5 653.3,120.8 C655.1,121.1 657.4,122.0 659.2,121.8 C661.0,121.6 662.5,120.8 664.1,119.8 C665.7,118.8 667.4,117.2 669.0,115.9 C670.6,114.6 672.4,113.0 673.9,112.0 C675.4,111.0 676.7,110.0 677.8,110.0 C678.9,110.0 679.6,111.0 680.7,112.0 C681.8,113.0 683.7,115.1 684.6,115.9 C685.5,116.7 685.8,116.8 686.0,117.0" stroke="#00ff00" stroke-dasharray="6 3"/>
<path d="M372.5,156.1 C373.3,156.1 375.6,155.8 377.3,156.1 C379.0,156.4 381.0,157.3 382.6,158.2 C384.2,159.1 385.5,160.9 386.9,161.4 C388.3,161.9 389.7,162.1 391.1,161.4 C392.5,160.7 394.0,159.1 395.4,157.1 C396.8,155.1 398.3,152.0 399.7,149.7 C401.1,147.4 402.5,145.2 403.9,143.3 C405.3,141.4 406.8,139.2 408.2,138.0 C409.6,136.8 410.8,136.8 412.4,135.9 C414.0,135.0 416.1,133.4 417.7,132.7 C419.3,132.0 420.6,132.7 422.0,131.6 C423.4,130.5 424.6,128.6 426.3,126.3 C428.0,124.0 430.4,120.1 432.0,118.0 C433.6,115.9 434.7,113.8 436.0,113.5 C437.3,113.2 438.5,114.6 439.7,116.0 C440.9,117.4 442.2,119.9 443.4,122.0 C444.6,124.1 445.7,126.6 447.1,128.5 C448.5,130.4 450.4,132.2 452.0,133.5 C453.6,134.8 455.3,135.2 456.9,136.0 C458.5,136.8 460.4,137.7 461.8,138.5 C463.2,139.3 463.6,139.2 465.0,140.8 C466.4,142.4 468.5,145.2 470.3,148.2 C472.1,151.2 473.8,156.0 475.6,158.8 C477.4,161.6 479.3,163.7 480.9,165.2 C482.5,166.7 483.8,167.7 485.2,167.8 C486.6,167.9 487.8,166.8 489.4,166.0 C491.0,165.2 492.9,164.0 494.7,163.0 C496.5,162.0 498.2,160.9 500.0,160.0 C501.8,159.1 503.5,158.8 505.3,157.5 C507.1,156.2 508.8,154.8 510.6,152.5 C512.4,150.2 514.4,146.8 516.0,144.0 C517.6,141.2 518.6,138.3 520.2,135.5 C521.8,132.7 523.7,129.3 525.5,127.0 C527.3,124.7 529.1,123.1 530.8,121.7 C532.5,120.3 534.2,119.6 535.7,118.8 C537.2,118.0 538.3,118.3 540.0,117.0 C541.7,115.7 544.4,112.8 546.1,111.0 C547.8,109.2 548.7,107.1 550.0,106.0 C551.3,104.9 552.5,104.7 554.0,104.4 C555.5,104.1 557.7,103.1 559.2,104.4 C560.7,105.7 561.4,108.8 563.1,112.3 C564.9,115.8 567.7,122.6 569.7,125.4 C571.7,128.2 573.0,128.5 574.9,129.3 C576.8,130.2 579.2,129.7 580.9,130.5 C582.6,131.3 583.4,131.0 585.0,134.0 C586.6,137.0 588.9,144.9 590.7,148.6 C592.5,152.3 594.4,154.4 596.0,156.0 C597.6,157.6 598.8,157.5 600.5,158.4 C602.2,159.3 604.1,161.9 606.4,161.6 C608.7,161.3 611.5,157.4 614.3,156.5 C617.0,155.6 620.5,155.8 622.9,156.1 C625.3,156.3 627.2,158.2 628.8,158.0 C630.4,157.8 631.4,157.0 632.7,155.1 C634.0,153.2 635.1,149.2 636.6,146.3 C638.1,143.4 639.9,139.6 641.5,137.5 C643.1,135.4 644.8,134.3 646.4,133.5 C648.0,132.7 649.7,132.5 651.3,132.5 C652.9,132.5 654.6,134.0 656.2,133.5 C657.8,133.0 659.3,131.1 661.1,129.6 C662.9,128.1 665.2,126.3 667.0,124.7 C668.8,123.1 670.4,121.0 671.9,119.8 C673.4,118.6 674.3,117.8 675.8,117.8 C677.3,117.8 679.2,119.1 680.7,119.8 C682.2,120.5 683.7,121.3 684.6,121.8 C685.5,122.3 685.8,122.8 686.0,123.0" stroke="#ff00ff" stroke-dasharray="1.8 1.4"/>
<path d="M372.5,151.8 C373.3,151.6 375.6,150.4 377.3,150.7 C379.0,151.0 380.8,152.8 382.6,153.5 C384.4,154.2 386.2,154.8 388.0,155.0 C389.8,155.2 391.7,155.7 393.3,155.0 C394.9,154.3 396.1,152.3 397.5,150.7 C398.9,149.1 400.4,147.3 401.8,145.4 C403.2,143.5 404.8,140.8 406.0,139.0 C407.2,137.2 407.9,135.9 409.2,134.8 C410.4,133.8 411.9,133.4 413.5,132.7 C415.1,132.0 417.2,131.6 418.8,130.5 C420.4,129.4 421.7,127.9 423.1,126.3 C424.5,124.7 425.8,122.8 427.3,121.0 C428.9,119.2 430.9,116.8 432.4,115.7 C433.8,114.6 434.8,114.3 436.0,114.5 C437.2,114.7 438.5,115.6 439.7,117.0 C440.9,118.4 442.2,121.1 443.4,123.1 C444.6,125.1 445.7,127.4 447.1,129.2 C448.5,131.0 450.4,132.9 452.0,134.1 C453.6,135.3 455.3,135.6 456.9,136.6 C458.5,137.6 460.2,138.8 461.8,140.2 C463.4,141.6 465.3,143.5 466.7,145.1 C468.1,146.7 469.2,148.4 470.3,150.0 C471.4,151.6 472.2,152.9 473.2,154.4 C474.2,155.9 475.2,157.5 476.2,158.8 C477.2,160.2 478.1,161.7 479.1,162.5 C480.1,163.3 481.1,163.2 482.1,163.5 C483.1,163.8 484.0,164.1 485.0,164.0 C486.0,163.9 486.9,163.6 487.9,163.2 C488.9,162.8 489.9,162.3 490.9,161.8 C491.9,161.3 492.8,160.7 493.8,160.3 C494.8,159.9 495.7,159.8 496.8,159.6 C497.9,159.3 499.2,158.8 500.4,158.8 C501.6,158.8 503.0,159.3 504.1,159.6 C505.2,159.9 506.0,160.7 507.1,160.5 C508.2,160.3 509.3,160.1 510.5,158.5 C511.7,156.9 513.1,153.4 514.4,151.0 C515.7,148.6 516.8,146.6 518.1,144.0 C519.4,141.4 520.9,138.0 522.3,135.5 C523.7,133.0 525.2,130.7 526.6,129.1 C528.0,127.5 529.3,126.9 530.8,125.9 C532.3,124.9 534.1,124.1 535.8,123.1 C537.5,122.1 539.3,121.4 540.9,120.1 C542.5,118.8 544.1,117.0 545.6,115.3 C547.1,113.6 548.5,111.4 550.0,110.0 C551.5,108.6 553.1,106.8 554.7,106.7 C556.3,106.6 557.6,107.3 559.4,109.4 C561.2,111.5 563.3,116.4 565.3,119.2 C567.2,122.0 569.1,124.8 571.1,126.3 C573.1,127.8 574.9,127.5 577.0,128.5 C579.1,129.5 581.7,130.3 583.8,132.1 C585.9,133.9 588.0,136.7 589.7,139.4 C591.4,142.1 592.9,145.9 594.1,148.2 C595.3,150.4 595.5,151.6 597.0,152.9 C598.5,154.2 600.8,155.7 603.0,155.9 C605.2,156.2 608.0,154.7 610.3,154.4 C612.6,154.1 615.1,153.5 617.0,154.1 C618.9,154.7 620.3,156.9 621.9,158.0 C623.5,159.1 625.3,160.6 626.8,160.6 C628.3,160.6 629.4,159.1 630.7,158.0 C632.0,156.9 633.3,155.6 634.6,154.1 C635.9,152.6 637.1,151.0 638.6,149.2 C640.1,147.4 641.7,145.0 643.5,143.3 C645.3,141.6 647.6,139.8 649.4,139.0 C651.2,138.2 652.8,139.0 654.3,138.4 C655.8,137.8 656.7,136.8 658.2,135.5 C659.7,134.2 661.6,132.2 663.1,130.6 C664.6,129.0 665.7,127.3 667.0,125.7 C668.3,124.1 669.4,122.1 670.9,120.8 C672.4,119.5 674.3,118.0 675.8,117.8 C677.3,117.6 678.4,119.0 679.7,119.8 C681.0,120.6 682.7,121.7 683.7,122.7 C684.8,123.7 685.6,125.2 686.0,125.7" stroke="#000000"/>
</g>
<g stroke-width="1" fill="none">
<line x1="372.5" y1="7.5" x2="372.5" y2="266" stroke="#bbbbbb"/>
<line x1="372" y1="8" x2="686" y2="8" stroke="#999"/>
<line x1="372" y1="265.5" x2="686" y2="265.5" stroke="#bbbbbb"/>
<line x1="685.5" y1="7.5" x2="685.5" y2="266" stroke="#777"/>
<line x1="398.5" y1="265" x2="398.5" y2="262" stroke="#999"/>
<line x1="398.5" y1="8.5" x2="398.5" y2="11.5" stroke="#aaa"/>
<line x1="425.5" y1="265" x2="425.5" y2="262" stroke="#999"/>
<line x1="425.5" y1="8.5" x2="425.5" y2="11.5" stroke="#aaa"/>
<line x1="452.5" y1="265" x2="452.5" y2="262" stroke="#999"/>
<line x1="452.5" y1="8.5" x2="452.5" y2="11.5" stroke="#aaa"/>
<line x1="480.5" y1="265" x2="480.5" y2="262" stroke="#999"/>
<line x1="480.5" y1="8.5" x2="480.5" y2="11.5" stroke="#aaa"/>
<line x1="507.5" y1="265" x2="507.5" y2="262" stroke="#999"/>
<line x1="507.5" y1="8.5" x2="507.5" y2="11.5" stroke="#aaa"/>
<line x1="534.5" y1="265" x2="534.5" y2="262" stroke="#999"/>
<line x1="534.5" y1="8.5" x2="534.5" y2="11.5" stroke="#aaa"/>
<line x1="562.5" y1="265" x2="562.5" y2="262" stroke="#999"/>
<line x1="562.5" y1="8.5" x2="562.5" y2="11.5" stroke="#aaa"/>
<line x1="589.5" y1="265" x2="589.5" y2="262" stroke="#999"/>
<line x1="589.5" y1="8.5" x2="589.5" y2="11.5" stroke="#aaa"/>
<line x1="616.5" y1="265" x2="616.5" y2="262" stroke="#999"/>
<line x1="616.5" y1="8.5" x2="616.5" y2="11.5" stroke="#aaa"/>
<line x1="644.5" y1="265" x2="644.5" y2="262" stroke="#999"/>
<line x1="644.5" y1="8.5" x2="644.5" y2="11.5" stroke="#aaa"/>
<line x1="671.5" y1="265" x2="671.5" y2="262" stroke="#999"/>
<line x1="671.5" y1="8.5" x2="671.5" y2="11.5" stroke="#aaa"/>
<line x1="373" y1="245.5" x2="376" y2="245.5" stroke="#aaa"/>
<line x1="685" y1="245.5" x2="682" y2="245.5" stroke="#888"/>
<line x1="373" y1="209.5" x2="376" y2="209.5" stroke="#aaa"/>
<line x1="685" y1="209.5" x2="682" y2="209.5" stroke="#888"/>
<line x1="373" y1="173.5" x2="376" y2="173.5" stroke="#aaa"/>
<line x1="685" y1="173.5" x2="682" y2="173.5" stroke="#888"/>
<line x1="373" y1="137.5" x2="376" y2="137.5" stroke="#aaa"/>
<line x1="685" y1="137.5" x2="682" y2="137.5" stroke="#888"/>
<line x1="373" y1="101.5" x2="376" y2="101.5" stroke="#aaa"/>
<line x1="685" y1="101.5" x2="682" y2="101.5" stroke="#888"/>
<line x1="373" y1="65.5" x2="376" y2="65.5" stroke="#aaa"/>
<line x1="685" y1="65.5" x2="682" y2="65.5" stroke="#888"/>
<line x1="373" y1="29.5" x2="376" y2="29.5" stroke="#aaa"/>
<line x1="685" y1="29.5" x2="682" y2="29.5" stroke="#888"/>
</g>
<g font-size="11.4" text-anchor="end">
<text x="368.5" y="250.1">-6</text>
<text x="368.5" y="214.1">-4</text>
<text x="368.5" y="178.1">-2</text>
<text x="368.5" y="142.1">0</text>
<text x="368.5" y="106.1">2</text>
<text x="368.5" y="70.1">4</text>
<text x="368.5" y="34.1">6</text>
</g>
<g font-size="11.4" text-anchor="middle">
<text x="425.2" y="277.8">4940</text>
<text x="479.8" y="277.8">4950</text>
<text x="534.4" y="277.8">4960</text>
<text x="589.0" y="277.8">4970</text>
<text x="643.6" y="277.8">4980</text>
<text x="538.2" y="293.8">Time, fs</text>
</g>
<text x="358.3" y="302.2" font-size="16.6">(b)</text>
</svg></body></html>
